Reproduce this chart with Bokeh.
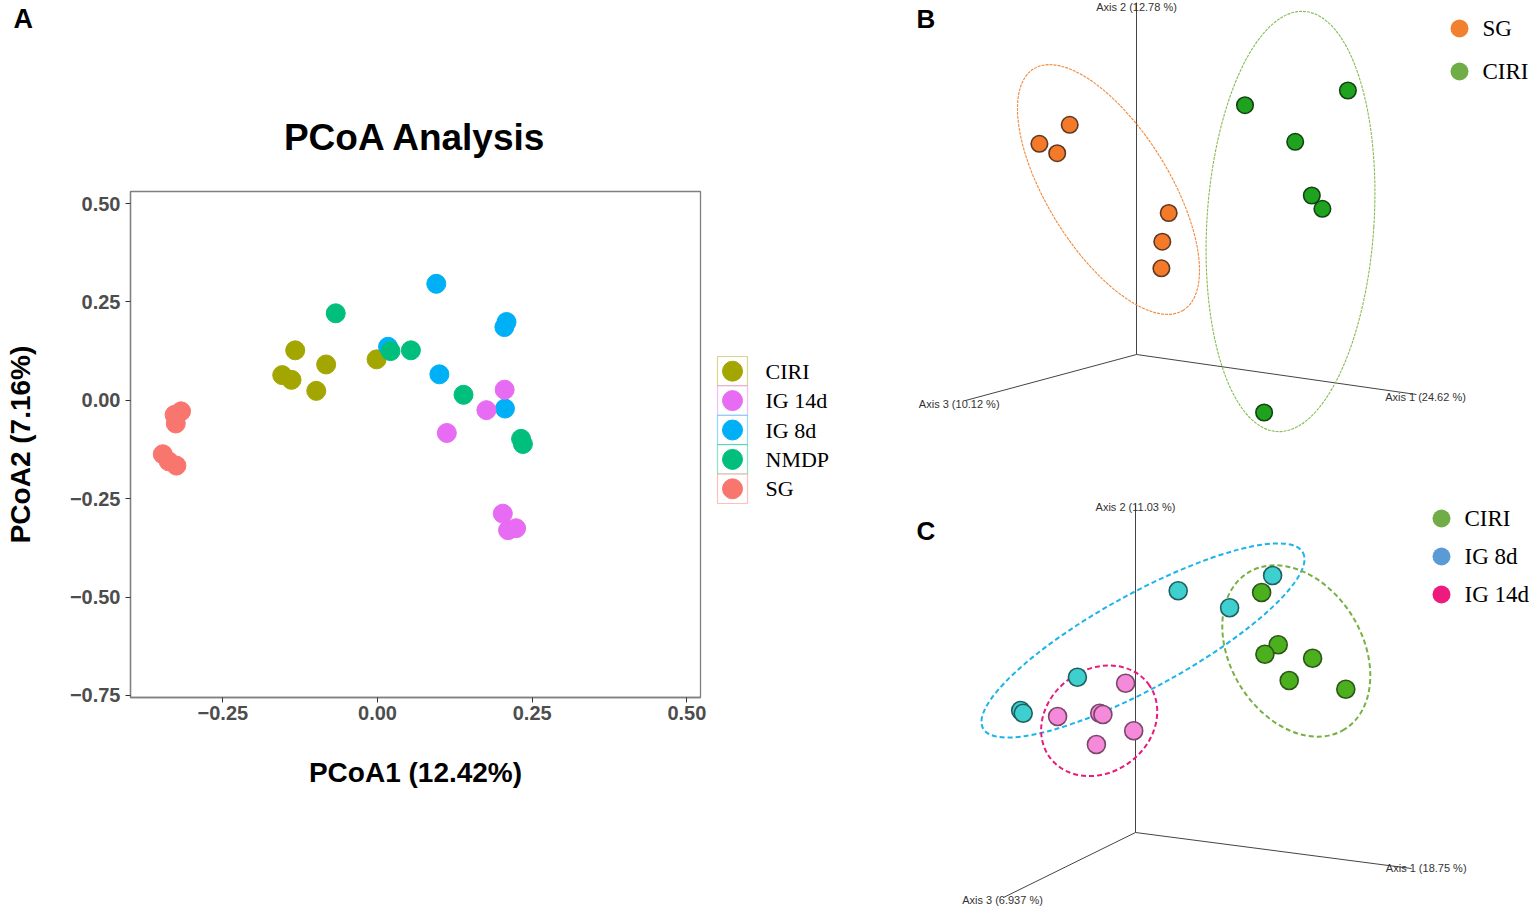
from bokeh.plotting import figure
from bokeh.layouts import row, column
from bokeh.models import Range1d, FixedTicker
from bokeh.core.properties import value
from bokeh.embed import file_html
from bokeh.resources import INLINE

# ---------------- Panel A data (PCoA1, PCoA2) ----------------
groups_a = ["CIRI", "IG 14d", "IG 8d", "NMDP", "SG"]
colors_a = ["#A3A500", "#E76BF3", "#00B0F6", "#00BF7D", "#F8766D"]
ciri_x = [-0.133, -0.154, -0.139, -0.099, -0.083, -0.0015]
ciri_y = [0.127, 0.064, 0.052, 0.024, 0.091, 0.104]
ig14_x = [0.2055, 0.176, 0.112, 0.2025, 0.211, 0.224]
ig14_y = [0.027, -0.025, -0.083, -0.288, -0.330, -0.325]
ig8_x = [0.095, 0.2085, 0.205, 0.017, 0.100, 0.206]
ig8_y = [0.296, 0.199, 0.186, 0.136, 0.066, -0.021]
nmdp_x = [-0.0675, 0.021, 0.054, 0.139, 0.232, 0.235]
nmdp_y = [0.221, 0.125, 0.127, 0.014, -0.098, -0.111]
sg_x = [-0.3175, -0.328, -0.326, -0.347, -0.3375, -0.325]
sg_y = [-0.028, -0.037, -0.059, -0.137, -0.155, -0.166]
x_ticks = [-0.25, 0.0, 0.25, 0.50]
x_tick_labels = ["\u22120.25", "0.00", "0.25", "0.50"]
y_ticks = [-0.75, -0.50, -0.25, 0.0, 0.25, 0.50]
y_tick_labels = ["\u22120.75", "\u22120.50", "\u22120.25", "0.00", "0.25", "0.50"]

# ---------------- Panel B data (projected 3D coordinates) ----------------
b_groups = ["SG", "CIRI"]
b_legend_colors = ["#F2812F", "#70AD47"]
b_sg_x = [1069.2, 1038.9, 1056.7, 1168.2, 1161.8, 1160.9]
b_sg_y = [124.3, 143.3, 152.7, 212.5, 241.2, 267.8]
b_ciri_x = [1244.5, 1347.4, 1294.7, 1311.3, 1321.9, 1263.6]
b_ciri_y = [104.7, 90.0, 141.3, 195.0, 208.3, 412.0]
b_axis_labels = ["Axis 2 (12.78 %)", "Axis 3 (10.12 %)", "Axis 1 (24.62 %)"]

# ---------------- Panel C data (projected 3D coordinates) ----------------
c_groups = ["CIRI", "IG 8d", "IG 14d"]
c_legend_colors = ["#70AD47", "#5B9BD5", "#EE1A7E"]
c_ciri_x = [1261.1, 1277.7, 1264.4, 1312.1, 1288.7, 1345.3]
c_ciri_y = [592.0, 644.3, 653.7, 657.7, 680.0, 688.7]
c_ig8_x = [1272.1, 1177.7, 1229.1, 1076.9, 1020.2, 1022.7]
c_ig8_y = [575.0, 590.3, 607.3, 676.7, 710.0, 712.7]
c_ig14_x = [1125.1, 1057.1, 1099.2, 1102.4, 1133.2, 1095.9]
c_ig14_y = [682.7, 716.0, 712.7, 714.0, 730.3, 744.0]
c_axis_labels = ["Axis 2 (11.03 %)", "Axis 3 (6.937 %)", "Axis 1 (18.75 %)"]

SANS = "Liberation Sans"
SERIF = "Liberation Serif"

W, H = 1535, 909
STRIP_H = 165          # height of the strip holding "A" and the title
PA_W, PL_W = 712, 188  # plot A width, legend A width
FL, FR, FT, FB = 130, 700, 191, 697  # frame box of plot A (page pixels)

X0, X1 = -0.3992, 0.522
Y0, Y1 = -0.7551, 0.5305


def blank(width, height, xr, yr, **kw):
    p = figure(width=width, height=height, x_range=Range1d(*xr), y_range=Range1d(*yr),
               output_backend="svg", toolbar_location=None,
               x_axis_location=None, y_axis_location=None, **kw)
    p.grid.visible = False
    p.outline_line_color = None
    return p


# ================= Strip with panel letter and title =================
ps = blank(PA_W + PL_W, STRIP_H, (0, PA_W + PL_W), (STRIP_H, 0), min_border=0)
ps.text(x=[13], y=[18], text=["A"], text_align="left", text_baseline="middle",
        text_font=value(SANS), text_font_size="27px", text_font_style="bold", text_color="black")
ps.text(x=[(FL + FR) / 2], y=[137], text=["PCoA Analysis"], text_align="center",
        text_baseline="middle", text_font=value(SANS), text_font_size="37px",
        text_font_style="bold", text_color="black")

# ================= Panel A =================
pa_h = H - STRIP_H
pa = figure(width=PA_W, height=pa_h, x_range=Range1d(X0, X1), y_range=Range1d(Y0, Y1),
            output_backend="svg", toolbar_location=None,
            min_border_left=FL, min_border_right=PA_W - FR,
            min_border_top=FT - STRIP_H, min_border_bottom=H - FB)
pa.grid.visible = False
pa.outline_line_color = "#7F7F7F"
pa.outline_line_width = 1.3

pa.xaxis.ticker = FixedTicker(ticks=x_ticks)
pa.xaxis.major_label_overrides = dict(zip(x_ticks, x_tick_labels))
pa.yaxis.ticker = FixedTicker(ticks=y_ticks)
pa.yaxis.major_label_overrides = dict(zip(y_ticks, y_tick_labels))
for axis in (pa.xaxis, pa.yaxis):
    axis.axis_line_color = "#7F7F7F"
    axis.axis_line_width = 1.3
    axis.major_tick_line_color = "#333333"
    axis.major_tick_out = 5
    axis.major_tick_in = 0
    axis.minor_tick_line_color = None
    axis.major_label_text_font = SANS
    axis.major_label_text_font_size = "20px"
    axis.major_label_text_font_style = "bold"
    axis.major_label_text_color = "#4D4D4D"
    axis.axis_label_text_font = SANS
    axis.axis_label_text_font_size = "28px"
    axis.axis_label_text_font_style = "bold"
    axis.axis_label_text_color = "black"
pa.xaxis.axis_label = "PCoA1 (12.42%)"
pa.yaxis.axis_label = "PCoA2 (7.16%)"
pa.xaxis.major_label_standoff = 3
pa.xaxis.axis_label_standoff = 34
pa.yaxis.major_label_standoff = 5
pa.yaxis.axis_label_standoff = 31

series_a = [(sg_x, sg_y, colors_a[4]), (ciri_x, ciri_y, colors_a[0]),
            (ig8_x, ig8_y, colors_a[2]), (nmdp_x, nmdp_y, colors_a[3]),
            (ig14_x, ig14_y, colors_a[1])]
for xs, ys, col in series_a:
    pa.scatter(xs, ys, size=19, fill_color=col, line_color=col)

# ================= Panel A legend =================
pl = blank(PL_W, pa_h, (PA_W, PA_W + PL_W), (FB, FT),
           min_border_left=0, min_border_right=0,
           min_border_top=FT - STRIP_H, min_border_bottom=H - FB)
key_top, key_h = 356, 29.4
key_x = 732
key_y = [key_top + key_h * (i + 0.5) for i in range(len(groups_a))]
pl.rect(x=[key_x] * len(groups_a), y=key_y, width=30, height=key_h, fill_color="white",
        line_color=colors_a, line_alpha=0.45, line_width=1.2)
pl.scatter(x=[key_x] * len(groups_a), y=key_y, size=20, fill_color=colors_a, line_color=colors_a)
pl.text(x=[key_x + 33] * len(groups_a), y=key_y, text=groups_a, text_baseline="middle",
        text_font=value(SERIF), text_font_size="22px", text_color="black")

# ================= Panel B =================
RX0 = PA_W + PL_W
pb = blank(W - RX0, 455, (RX0, W), (455, 0), min_border=0)
b_origin = (1136, 354)
b_ends = [(1136, 2), (965, 400), (1416, 394)]
pb.segment(x0=[b_origin[0]] * 3, y0=[b_origin[1]] * 3,
           x1=[e[0] for e in b_ends], y1=[e[1] for e in b_ends],
           line_color="#444444", line_width=1)
pb.text(x=[1136, 958.7, 1425], y=[6, 403, 396], text=b_axis_labels, text_align="center",
        text_baseline="middle", text_font=value(SANS), text_font_size="11px", text_color="#333333")
pb.ellipse(x=[1108], y=[189], width=[284], height=[122], angle=[-58.2], angle_units="deg",
           fill_color=None, line_color="#F08A3C", line_width=1.1, line_dash="3 1")
pb.ellipse(x=[1290], y=[221], width=[167], height=[421], angle=[-3.7], angle_units="deg",
           fill_color=None, line_color="#86BD55", line_width=1.1, line_dash="3 1")
pb.scatter(b_sg_x, b_sg_y, size=16.5, fill_color="#F47A2A", line_color="#5E3822", line_width=1.6)
pb.scatter(b_ciri_x, b_ciri_y, size=16.5, fill_color="#1FA31F", line_color="#124412", line_width=1.6)
pb.scatter(x=[1459, 1459], y=[28, 71], size=18, fill_color=b_legend_colors, line_color=None)
pb.text(x=[1482, 1482], y=[28, 71], text=b_groups, text_baseline="middle",
        text_font=value(SERIF), text_font_size="23px", text_color="black")
pb.text(x=[916], y=[18], text=["B"], text_align="left", text_baseline="middle",
        text_font=value(SANS), text_font_size="26px", text_font_style="bold", text_color="black")

# ================= Panel C =================
pc = blank(W - RX0, H - 455, (RX0, W), (H, 455), min_border=0)
c_origin = (1135, 832)
c_ends = [(1135, 504), (1003, 897), (1411, 868)]
pc.segment(x0=[c_origin[0]] * 3, y0=[c_origin[1]] * 3,
           x1=[e[0] for e in c_ends], y1=[e[1] for e in c_ends],
           line_color="#444444", line_width=1)
pc.text(x=[1135, 1002, 1425.7], y=[506, 899, 867.5], text=c_axis_labels, text_align="center",
        text_baseline="middle", text_font=value(SANS), text_font_size="11px", text_color="#333333")
pc.ellipse(x=[1142.5], y=[640], width=[365], height=[94], angle=[28.8], angle_units="deg",
           fill_color=None, line_color="#1CB4EA", line_width=2, line_dash="5 3")
pc.ellipse(x=[1098.7], y=[720.3], width=[123], height=[103], angle=[37], angle_units="deg",
           fill_color=None, line_color="#EA1A7C", line_width=2, line_dash="5 3")
pc.ellipse(x=[1295.8], y=[650.5], width=[184], height=[132], angle=[-58.5], angle_units="deg",
           fill_color=None, line_color="#77B043", line_width=2, line_dash="5 3")
pc.scatter(c_ciri_x, c_ciri_y, size=18, fill_color="#4CAF1E", line_color="#2B5616", line_width=1.6)
pc.scatter(c_ig8_x, c_ig8_y, size=18, fill_color="#3ECFCF", line_color="#1F5F60", line_width=1.6)
pc.scatter(c_ig14_x, c_ig14_y, size=18, fill_color="#F48AD9", line_color="#7A466C", line_width=1.6)
pc.scatter(x=[1441] * 3, y=[518, 556, 594], size=18, fill_color=c_legend_colors, line_color=None)
pc.text(x=[1464] * 3, y=[518, 556, 594], text=c_groups, text_baseline="middle",
        text_font=value(SERIF), text_font_size="23px", text_color="black")
pc.text(x=[916], y=[530], text=["C"], text_align="left", text_baseline="middle",
        text_font=value(SANS), text_font_size="26px", text_font_style="bold", text_color="black")

layout = row(column(ps, row(pa, pl)), column(pb, pc))
open("out.html", "w").write(file_html(layout, INLINE))
